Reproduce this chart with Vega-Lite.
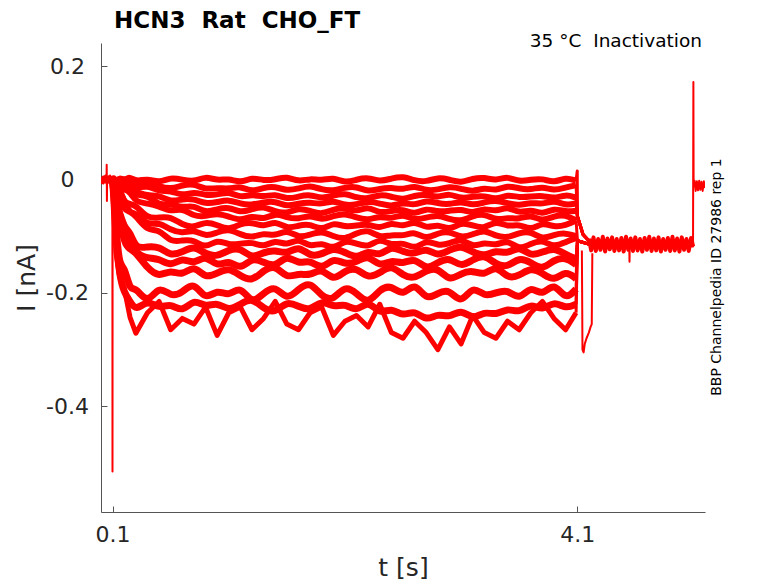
{
  "$schema": "https://vega.github.io/schema/vega-lite/v6.json",
  "width": 604,
  "height": 469,
  "autosize": {"type": "none"},
  "padding": {"left": 101, "top": 43, "right": 73, "bottom": 71},
  "background": "white",
  "title": {
    "text": "HCN3\u00a0\u00a0Rat\u00a0\u00a0CHO_FT",
    "anchor": "start",
    "frame": "group",
    "dx": 13,
    "offset": -19,
    "baseline": "alphabetic",
    "font": "DejaVu Sans",
    "fontSize": 23,
    "fontWeight": "bold",
    "color": "#000000"
  },
  "config": {
    "view": {"stroke": null},
    "axis": {
      "grid": false,
      "domainColor": "#555555",
      "tickColor": "#555555",
      "tickSize": -6,
      "labelColor": "#262626",
      "titleColor": "#262626",
      "labelFont": "DejaVu Sans",
      "titleFont": "DejaVu Sans",
      "labelFontSize": 22,
      "titleFontSize": 25,
      "titleFontWeight": "normal"
    }
  },
  "layer": [
    {
      "data": {
        "values": [
          {"s":0,"t":0.002,"i":0.004},{"s":0,"t":0.008,"i":-0.006},{"s":0,"t":0.014,"i":0.005},{"s":0,"t":0.02,"i":-0.007},{"s":0,"t":0.026,"i":0.006},{"s":0,"t":0.032,"i":-0.005},{"s":0,"t":0.038,"i":0.007},{"s":0,"t":0.044,"i":-0.006},{"s":0,"t":0.048,"i":0.004},{"s":0,"t":0.049,"i":0.026},{"s":0,"t":0.051,"i":-0.038},{"s":0,"t":0.053,"i":0.003},{"s":0,"t":0.06,"i":-0.006},{"s":0,"t":0.066,"i":0.006},{"s":0,"t":0.072,"i":-0.005},{"s":0,"t":0.078,"i":0.007},{"s":0,"t":0.084,"i":-0.006},{"s":0,"t":0.09,"i":0.005},{"s":0,"t":0.096,"i":-0.004},{"s":0,"t":0.098,"i":0.002},{"s":0,"t":0.099,"i":-0.515},{"s":0,"t":0.1,"i":-0.02},

          {"s":1,"t":0.1,"i":0},{"s":1,"t":0.11,"i":0.002},{"s":1,"t":0.13,"i":-0.004},{"s":1,"t":0.16,"i":0.004},{"s":1,"t":0.2,"i":-0.002},{"s":1,"t":0.25,"i":0.006},{"s":1,"t":0.3,"i":-0.004},{"s":1,"t":0.4,"i":0.002},{"s":1,"t":0.5,"i":-0.006},{"s":1,"t":0.6,"i":0.004},{"s":1,"t":0.7,"i":0},{"s":1,"t":0.8,"i":-0.004},{"s":1,"t":0.9,"i":0.006},{"s":1,"t":1.0,"i":-0.002},{"s":1,"t":1.1,"i":0.002},{"s":1,"t":1.2,"i":-0.006},{"s":1,"t":1.3,"i":0.004},{"s":1,"t":1.4,"i":-0.002},{"s":1,"t":1.5,"i":0},{"s":1,"t":1.6,"i":0.006},{"s":1,"t":1.7,"i":-0.004},{"s":1,"t":1.8,"i":0.002},{"s":1,"t":1.9,"i":-0.002},{"s":1,"t":2.0,"i":0.004},{"s":1,"t":2.1,"i":-0.006},{"s":1,"t":2.2,"i":0},{"s":1,"t":2.3,"i":0.004},{"s":1,"t":2.4,"i":-0.004},{"s":1,"t":2.5,"i":0.002},{"s":1,"t":2.6,"i":0.006},{"s":1,"t":2.7,"i":-0.002},{"s":1,"t":2.8,"i":-0.004},{"s":1,"t":2.9,"i":0.004},{"s":1,"t":3.0,"i":0},{"s":1,"t":3.1,"i":-0.006},{"s":1,"t":3.2,"i":0.002},{"s":1,"t":3.3,"i":0.004},{"s":1,"t":3.4,"i":-0.002},{"s":1,"t":3.5,"i":0.006},{"s":1,"t":3.6,"i":-0.004},{"s":1,"t":3.7,"i":0},{"s":1,"t":3.8,"i":0.002},{"s":1,"t":3.9,"i":-0.006},{"s":1,"t":4.0,"i":0.004},{"s":1,"t":4.09,"i":-0.002},
          {"s":101,"t":4.09,"i":-0.002},{"s":101,"t":4.1,"i":0.015},{"s":101,"t":4.102,"i":-0.065},{"s":101,"t":4.15,"i":-0.097},{"s":101,"t":4.2,"i":-0.108},

          {"s":2,"t":0.1,"i":0},{"s":2,"t":0.11,"i":-0.004},{"s":2,"t":0.13,"i":0.001},{"s":2,"t":0.16,"i":-0.004},{"s":2,"t":0.2,"i":0.003},{"s":2,"t":0.25,"i":-0.009},{"s":2,"t":0.3,"i":-0.006},{"s":2,"t":0.4,"i":-0.004},{"s":2,"t":0.5,"i":-0.012},{"s":2,"t":0.6,"i":-0.017},{"s":2,"t":0.7,"i":-0.01},{"s":2,"t":0.8,"i":-0.007},{"s":2,"t":0.9,"i":-0.018},{"s":2,"t":1.0,"i":-0.014},{"s":2,"t":1.1,"i":-0.017},{"s":2,"t":1.2,"i":-0.011},{"s":2,"t":1.3,"i":-0.022},{"s":2,"t":1.4,"i":-0.014},{"s":2,"t":1.5,"i":-0.012},{"s":2,"t":1.6,"i":-0.02},{"s":2,"t":1.7,"i":-0.016},{"s":2,"t":1.8,"i":-0.01},{"s":2,"t":1.9,"i":-0.018},{"s":2,"t":2.0,"i":-0.02},{"s":2,"t":2.1,"i":-0.014},{"s":2,"t":2.2,"i":-0.012},{"s":2,"t":2.3,"i":-0.022},{"s":2,"t":2.4,"i":-0.016},{"s":2,"t":2.5,"i":-0.014},{"s":2,"t":2.6,"i":-0.018},{"s":2,"t":2.7,"i":-0.01},{"s":2,"t":2.8,"i":-0.02},{"s":2,"t":2.9,"i":-0.018},{"s":2,"t":3.0,"i":-0.012},{"s":2,"t":3.1,"i":-0.016},{"s":2,"t":3.2,"i":-0.022},{"s":2,"t":3.3,"i":-0.014},{"s":2,"t":3.4,"i":-0.02},{"s":2,"t":3.5,"i":-0.01},{"s":2,"t":3.6,"i":-0.016},{"s":2,"t":3.7,"i":-0.018},{"s":2,"t":3.8,"i":-0.012},{"s":2,"t":3.9,"i":-0.02},{"s":2,"t":4.0,"i":-0.014},{"s":2,"t":4.09,"i":-0.01},
          {"s":102,"t":4.09,"i":-0.01},{"s":102,"t":4.102,"i":-0.065},{"s":102,"t":4.15,"i":-0.097},{"s":102,"t":4.2,"i":-0.108},

          {"s":3,"t":0.1,"i":0},{"s":3,"t":0.11,"i":-0.005},{"s":3,"t":0.13,"i":0},{"s":3,"t":0.16,"i":-0.01},{"s":3,"t":0.2,"i":-0.003},{"s":3,"t":0.25,"i":-0.009},{"s":3,"t":0.3,"i":-0.016},{"s":3,"t":0.4,"i":-0.01},{"s":3,"t":0.5,"i":-0.021},{"s":3,"t":0.6,"i":-0.019},{"s":3,"t":0.7,"i":-0.029},{"s":3,"t":0.8,"i":-0.021},{"s":3,"t":0.9,"i":-0.028},{"s":3,"t":1.0,"i":-0.027},{"s":3,"t":1.1,"i":-0.021},{"s":3,"t":1.2,"i":-0.032},{"s":3,"t":1.3,"i":-0.026},{"s":3,"t":1.4,"i":-0.031},{"s":3,"t":1.5,"i":-0.025},{"s":3,"t":1.6,"i":-0.035},{"s":3,"t":1.7,"i":-0.03},{"s":3,"t":1.8,"i":-0.026},{"s":3,"t":1.9,"i":-0.034},{"s":3,"t":2.0,"i":-0.028},{"s":3,"t":2.1,"i":-0.024},{"s":3,"t":2.2,"i":-0.032},{"s":3,"t":2.3,"i":-0.034},{"s":3,"t":2.4,"i":-0.026},{"s":3,"t":2.5,"i":-0.03},{"s":3,"t":2.6,"i":-0.036},{"s":3,"t":2.7,"i":-0.028},{"s":3,"t":2.8,"i":-0.026},{"s":3,"t":2.9,"i":-0.032},{"s":3,"t":3.0,"i":-0.024},{"s":3,"t":3.1,"i":-0.034},{"s":3,"t":3.2,"i":-0.03},{"s":3,"t":3.3,"i":-0.028},{"s":3,"t":3.4,"i":-0.036},{"s":3,"t":3.5,"i":-0.026},{"s":3,"t":3.6,"i":-0.032},{"s":3,"t":3.7,"i":-0.03},{"s":3,"t":3.8,"i":-0.028},{"s":3,"t":3.9,"i":-0.034},{"s":3,"t":4.0,"i":-0.026},{"s":3,"t":4.09,"i":-0.032},
          {"s":103,"t":4.09,"i":-0.032},{"s":103,"t":4.102,"i":-0.065},{"s":103,"t":4.15,"i":-0.097},{"s":103,"t":4.2,"i":-0.108},

          {"s":4,"t":0.1,"i":0},{"s":4,"t":0.11,"i":-0.003},{"s":4,"t":0.13,"i":-0.01},{"s":4,"t":0.16,"i":-0.006},{"s":4,"t":0.2,"i":-0.006},{"s":4,"t":0.25,"i":-0.021},{"s":4,"t":0.3,"i":-0.021},{"s":4,"t":0.4,"i":-0.029},{"s":4,"t":0.5,"i":-0.027},{"s":4,"t":0.6,"i":-0.04},{"s":4,"t":0.7,"i":-0.034},{"s":4,"t":0.8,"i":-0.034},{"s":4,"t":0.9,"i":-0.043},{"s":4,"t":1.0,"i":-0.04},{"s":4,"t":1.1,"i":-0.035},{"s":4,"t":1.2,"i":-0.043},{"s":4,"t":1.3,"i":-0.045},{"s":4,"t":1.4,"i":-0.04},{"s":4,"t":1.5,"i":-0.038},{"s":4,"t":1.6,"i":-0.048},{"s":4,"t":1.7,"i":-0.042},{"s":4,"t":1.8,"i":-0.04},{"s":4,"t":1.9,"i":-0.044},{"s":4,"t":2.0,"i":-0.036},{"s":4,"t":2.1,"i":-0.046},{"s":4,"t":2.2,"i":-0.044},{"s":4,"t":2.3,"i":-0.038},{"s":4,"t":2.4,"i":-0.042},{"s":4,"t":2.5,"i":-0.048},{"s":4,"t":2.6,"i":-0.04},{"s":4,"t":2.7,"i":-0.046},{"s":4,"t":2.8,"i":-0.036},{"s":4,"t":2.9,"i":-0.042},{"s":4,"t":3.0,"i":-0.044},{"s":4,"t":3.1,"i":-0.038},{"s":4,"t":3.2,"i":-0.046},{"s":4,"t":3.3,"i":-0.04},{"s":4,"t":3.4,"i":-0.036},{"s":4,"t":3.5,"i":-0.042},{"s":4,"t":3.6,"i":-0.046},{"s":4,"t":3.7,"i":-0.04},{"s":4,"t":3.8,"i":-0.044},{"s":4,"t":3.9,"i":-0.036},{"s":4,"t":4.0,"i":-0.046},{"s":4,"t":4.09,"i":-0.042},
          {"s":104,"t":4.09,"i":-0.042},{"s":104,"t":4.102,"i":-0.065},{"s":104,"t":4.15,"i":-0.097},{"s":104,"t":4.2,"i":-0.108},

          {"s":5,"t":0.1,"i":0},{"s":5,"t":0.11,"i":-0.004},{"s":5,"t":0.13,"i":-0.003},{"s":5,"t":0.16,"i":-0.018},{"s":5,"t":0.2,"i":-0.011},{"s":5,"t":0.25,"i":-0.024},{"s":5,"t":0.3,"i":-0.027},{"s":5,"t":0.4,"i":-0.027},{"s":5,"t":0.5,"i":-0.046},{"s":5,"t":0.6,"i":-0.042},{"s":5,"t":0.7,"i":-0.05},{"s":5,"t":0.8,"i":-0.045},{"s":5,"t":0.9,"i":-0.059},{"s":5,"t":1.0,"i":-0.052},{"s":5,"t":1.1,"i":-0.048},{"s":5,"t":1.2,"i":-0.059},{"s":5,"t":1.3,"i":-0.052},{"s":5,"t":1.4,"i":-0.047},{"s":5,"t":1.5,"i":-0.057},{"s":5,"t":1.6,"i":-0.06},{"s":5,"t":1.7,"i":-0.05},{"s":5,"t":1.8,"i":-0.055},{"s":5,"t":1.9,"i":-0.062},{"s":5,"t":2.0,"i":-0.052},{"s":5,"t":2.1,"i":-0.05},{"s":5,"t":2.2,"i":-0.057},{"s":5,"t":2.3,"i":-0.047},{"s":5,"t":2.4,"i":-0.06},{"s":5,"t":2.5,"i":-0.055},{"s":5,"t":2.6,"i":-0.052},{"s":5,"t":2.7,"i":-0.062},{"s":5,"t":2.8,"i":-0.05},{"s":5,"t":2.9,"i":-0.057},{"s":5,"t":3.0,"i":-0.055},{"s":5,"t":3.1,"i":-0.052},{"s":5,"t":3.2,"i":-0.06},{"s":5,"t":3.3,"i":-0.05},{"s":5,"t":3.4,"i":-0.057},{"s":5,"t":3.5,"i":-0.047},{"s":5,"t":3.6,"i":-0.06},{"s":5,"t":3.7,"i":-0.052},{"s":5,"t":3.8,"i":-0.062},{"s":5,"t":3.9,"i":-0.05},{"s":5,"t":4.0,"i":-0.057},{"s":5,"t":4.09,"i":-0.055},
          {"s":105,"t":4.09,"i":-0.055},{"s":105,"t":4.102,"i":-0.065},{"s":105,"t":4.15,"i":-0.097},{"s":105,"t":4.2,"i":-0.108},

          {"s":6,"t":0.1,"i":0},{"s":6,"t":0.11,"i":0.005},{"s":6,"t":0.13,"i":-0.009},{"s":6,"t":0.16,"i":-0.017},{"s":6,"t":0.2,"i":-0.017},{"s":6,"t":0.25,"i":-0.021},{"s":6,"t":0.3,"i":-0.04},{"s":6,"t":0.4,"i":-0.042},{"s":6,"t":0.5,"i":-0.047},{"s":6,"t":0.6,"i":-0.057},{"s":6,"t":0.7,"i":-0.05},{"s":6,"t":0.8,"i":-0.065},{"s":6,"t":0.9,"i":-0.065},{"s":6,"t":1.0,"i":-0.059},{"s":6,"t":1.1,"i":-0.065},{"s":6,"t":1.2,"i":-0.073},{"s":6,"t":1.3,"i":-0.063},{"s":6,"t":1.4,"i":-0.071},{"s":6,"t":1.5,"i":-0.059},{"s":6,"t":1.6,"i":-0.067},{"s":6,"t":1.7,"i":-0.07},{"s":6,"t":1.8,"i":-0.062},{"s":6,"t":1.9,"i":-0.072},{"s":6,"t":2.0,"i":-0.064},{"s":6,"t":2.1,"i":-0.06},{"s":6,"t":2.2,"i":-0.067},{"s":6,"t":2.3,"i":-0.072},{"s":6,"t":2.4,"i":-0.064},{"s":6,"t":2.5,"i":-0.07},{"s":6,"t":2.6,"i":-0.06},{"s":6,"t":2.7,"i":-0.072},{"s":6,"t":2.8,"i":-0.067},{"s":6,"t":2.9,"i":-0.062},{"s":6,"t":3.0,"i":-0.07},{"s":6,"t":3.1,"i":-0.074},{"s":6,"t":3.2,"i":-0.064},{"s":6,"t":3.3,"i":-0.06},{"s":6,"t":3.4,"i":-0.072},{"s":6,"t":3.5,"i":-0.067},{"s":6,"t":3.6,"i":-0.07},{"s":6,"t":3.7,"i":-0.062},{"s":6,"t":3.8,"i":-0.074},{"s":6,"t":3.9,"i":-0.064},{"s":6,"t":4.0,"i":-0.062},{"s":6,"t":4.09,"i":-0.072},
          {"s":106,"t":4.09,"i":-0.072},{"s":106,"t":4.102,"i":-0.065},{"s":106,"t":4.15,"i":-0.097},{"s":106,"t":4.2,"i":-0.108},

          {"s":7,"t":0.1,"i":0},{"s":7,"t":0.11,"i":-0.001},{"s":7,"t":0.13,"i":-0.014},{"s":7,"t":0.16,"i":-0.015},{"s":7,"t":0.2,"i":-0.041},{"s":7,"t":0.25,"i":-0.043},{"s":7,"t":0.3,"i":-0.045},{"s":7,"t":0.4,"i":-0.069},{"s":7,"t":0.5,"i":-0.067},{"s":7,"t":0.6,"i":-0.065},{"s":7,"t":0.7,"i":-0.08},{"s":7,"t":0.8,"i":-0.085},{"s":7,"t":0.9,"i":-0.074},{"s":7,"t":1.0,"i":-0.08},{"s":7,"t":1.1,"i":-0.089},{"s":7,"t":1.2,"i":-0.078},{"s":7,"t":1.3,"i":-0.075},{"s":7,"t":1.4,"i":-0.084},{"s":7,"t":1.5,"i":-0.072},{"s":7,"t":1.6,"i":-0.087},{"s":7,"t":1.7,"i":-0.081},{"s":7,"t":1.8,"i":-0.078},{"s":7,"t":1.9,"i":-0.09},{"s":7,"t":2.0,"i":-0.075},{"s":7,"t":2.1,"i":-0.084},{"s":7,"t":2.2,"i":-0.081},{"s":7,"t":2.3,"i":-0.078},{"s":7,"t":2.4,"i":-0.087},{"s":7,"t":2.5,"i":-0.075},{"s":7,"t":2.6,"i":-0.084},{"s":7,"t":2.7,"i":-0.072},{"s":7,"t":2.8,"i":-0.087},{"s":7,"t":2.9,"i":-0.078},{"s":7,"t":3.0,"i":-0.09},{"s":7,"t":3.1,"i":-0.075},{"s":7,"t":3.2,"i":-0.081},{"s":7,"t":3.3,"i":-0.087},{"s":7,"t":3.4,"i":-0.072},{"s":7,"t":3.5,"i":-0.084},{"s":7,"t":3.6,"i":-0.078},{"s":7,"t":3.7,"i":-0.09},{"s":7,"t":3.8,"i":-0.075},{"s":7,"t":3.9,"i":-0.084},{"s":7,"t":4.0,"i":-0.081},{"s":7,"t":4.09,"i":-0.072},
          {"s":107,"t":4.09,"i":-0.072},{"s":107,"t":4.102,"i":-0.108},{"s":107,"t":4.2,"i":-0.114},

          {"s":8,"t":0.1,"i":0},{"s":8,"t":0.11,"i":-0.011},{"s":8,"t":0.13,"i":-0.017},{"s":8,"t":0.16,"i":-0.019},{"s":8,"t":0.2,"i":-0.038},{"s":8,"t":0.25,"i":-0.06},{"s":8,"t":0.3,"i":-0.058},{"s":8,"t":0.4,"i":-0.081},{"s":8,"t":0.5,"i":-0.075},{"s":8,"t":0.6,"i":-0.089},{"s":8,"t":0.7,"i":-0.095},{"s":8,"t":0.8,"i":-0.088},{"s":8,"t":0.9,"i":-0.101},{"s":8,"t":1.0,"i":-0.093},{"s":8,"t":1.1,"i":-0.087},{"s":8,"t":1.2,"i":-0.097},{"s":8,"t":1.3,"i":-0.103},{"s":8,"t":1.4,"i":-0.094},{"s":8,"t":1.5,"i":-0.1},{"s":8,"t":1.6,"i":-0.088},{"s":8,"t":1.7,"i":-0.103},{"s":8,"t":1.8,"i":-0.097},{"s":8,"t":1.9,"i":-0.091},{"s":8,"t":2.0,"i":-0.1},{"s":8,"t":2.1,"i":-0.106},{"s":8,"t":2.2,"i":-0.094},{"s":8,"t":2.3,"i":-0.088},{"s":8,"t":2.4,"i":-0.103},{"s":8,"t":2.5,"i":-0.097},{"s":8,"t":2.6,"i":-0.1},{"s":8,"t":2.7,"i":-0.091},{"s":8,"t":2.8,"i":-0.106},{"s":8,"t":2.9,"i":-0.094},{"s":8,"t":3.0,"i":-0.091},{"s":8,"t":3.1,"i":-0.103},{"s":8,"t":3.2,"i":-0.097},{"s":8,"t":3.3,"i":-0.088},{"s":8,"t":3.4,"i":-0.1},{"s":8,"t":3.5,"i":-0.103},{"s":8,"t":3.6,"i":-0.094},{"s":8,"t":3.7,"i":-0.091},{"s":8,"t":3.8,"i":-0.106},{"s":8,"t":3.9,"i":-0.097},{"s":8,"t":4.0,"i":-0.094},{"s":8,"t":4.09,"i":-0.1},
          {"s":108,"t":4.09,"i":-0.1},{"s":108,"t":4.102,"i":-0.108},{"s":108,"t":4.2,"i":-0.114},

          {"s":9,"t":0.1,"i":0},{"s":9,"t":0.11,"i":-0.013},{"s":9,"t":0.13,"i":-0.009},{"s":9,"t":0.16,"i":-0.029},{"s":9,"t":0.2,"i":-0.055},{"s":9,"t":0.25,"i":-0.056},{"s":9,"t":0.3,"i":-0.064},{"s":9,"t":0.4,"i":-0.091},{"s":9,"t":0.5,"i":-0.087},{"s":9,"t":0.6,"i":-0.111},{"s":9,"t":0.7,"i":-0.107},{"s":9,"t":0.8,"i":-0.106},{"s":9,"t":0.9,"i":-0.122},{"s":9,"t":1.0,"i":-0.105},{"s":9,"t":1.1,"i":-0.116},{"s":9,"t":1.2,"i":-0.113},{"s":9,"t":1.3,"i":-0.11},{"s":9,"t":1.4,"i":-0.12},{"s":9,"t":1.5,"i":-0.106},{"s":9,"t":1.6,"i":-0.117},{"s":9,"t":1.7,"i":-0.103},{"s":9,"t":1.8,"i":-0.12},{"s":9,"t":1.9,"i":-0.11},{"s":9,"t":2.0,"i":-0.124},{"s":9,"t":2.1,"i":-0.106},{"s":9,"t":2.2,"i":-0.113},{"s":9,"t":2.3,"i":-0.12},{"s":9,"t":2.4,"i":-0.103},{"s":9,"t":2.5,"i":-0.117},{"s":9,"t":2.6,"i":-0.11},{"s":9,"t":2.7,"i":-0.124},{"s":9,"t":2.8,"i":-0.106},{"s":9,"t":2.9,"i":-0.117},{"s":9,"t":3.0,"i":-0.113},{"s":9,"t":3.1,"i":-0.103},{"s":9,"t":3.2,"i":-0.12},{"s":9,"t":3.3,"i":-0.11},{"s":9,"t":3.4,"i":-0.117},{"s":9,"t":3.5,"i":-0.106},{"s":9,"t":3.6,"i":-0.124},{"s":9,"t":3.7,"i":-0.113},{"s":9,"t":3.8,"i":-0.106},{"s":9,"t":3.9,"i":-0.12},{"s":9,"t":4.0,"i":-0.11},{"s":9,"t":4.09,"i":-0.103},
          {"s":109,"t":4.09,"i":-0.103},{"s":109,"t":4.102,"i":-0.108},{"s":109,"t":4.2,"i":-0.114},

          {"s":10,"t":0.1,"i":0},{"s":10,"t":0.11,"i":-0.002},{"s":10,"t":0.13,"i":-0.041},{"s":10,"t":0.16,"i":-0.058},{"s":10,"t":0.2,"i":-0.085},{"s":10,"t":0.25,"i":-0.092},{"s":10,"t":0.3,"i":-0.123},{"s":10,"t":0.4,"i":-0.118},{"s":10,"t":0.5,"i":-0.118},{"s":10,"t":0.6,"i":-0.135},{"s":10,"t":0.7,"i":-0.128},{"s":10,"t":0.8,"i":-0.116},{"s":10,"t":0.9,"i":-0.132},{"s":10,"t":1.0,"i":-0.136},{"s":10,"t":1.1,"i":-0.124},{"s":10,"t":1.2,"i":-0.12},{"s":10,"t":1.3,"i":-0.14},{"s":10,"t":1.4,"i":-0.128},{"s":10,"t":1.5,"i":-0.124},{"s":10,"t":1.6,"i":-0.132},{"s":10,"t":1.7,"i":-0.116},{"s":10,"t":1.8,"i":-0.136},{"s":10,"t":1.9,"i":-0.132},{"s":10,"t":2.0,"i":-0.12},{"s":10,"t":2.1,"i":-0.128},{"s":10,"t":2.2,"i":-0.14},{"s":10,"t":2.3,"i":-0.124},{"s":10,"t":2.4,"i":-0.136},{"s":10,"t":2.5,"i":-0.116},{"s":10,"t":2.6,"i":-0.128},{"s":10,"t":2.7,"i":-0.132},{"s":10,"t":2.8,"i":-0.12},{"s":10,"t":2.9,"i":-0.136},{"s":10,"t":3.0,"i":-0.124},{"s":10,"t":3.1,"i":-0.116},{"s":10,"t":3.2,"i":-0.128},{"s":10,"t":3.3,"i":-0.136},{"s":10,"t":3.4,"i":-0.124},{"s":10,"t":3.5,"i":-0.132},{"s":10,"t":3.6,"i":-0.116},{"s":10,"t":3.7,"i":-0.136},{"s":10,"t":3.8,"i":-0.128},{"s":10,"t":3.9,"i":-0.12},{"s":10,"t":4.0,"i":-0.132},{"s":10,"t":4.09,"i":-0.14},
          {"s":110,"t":4.09,"i":-0.14},{"s":110,"t":4.102,"i":-0.108},{"s":110,"t":4.2,"i":-0.114},

          {"s":11,"t":0.1,"i":0},{"s":11,"t":0.11,"i":-0.023},{"s":11,"t":0.13,"i":-0.038},{"s":11,"t":0.16,"i":-0.061},{"s":11,"t":0.2,"i":-0.106},{"s":11,"t":0.25,"i":-0.104},{"s":11,"t":0.3,"i":-0.131},{"s":11,"t":0.4,"i":-0.139},{"s":11,"t":0.5,"i":-0.139},{"s":11,"t":0.6,"i":-0.154},{"s":11,"t":0.7,"i":-0.137},{"s":11,"t":0.8,"i":-0.15},{"s":11,"t":0.9,"i":-0.132},{"s":11,"t":1.0,"i":-0.155},{"s":11,"t":1.1,"i":-0.141},{"s":11,"t":1.2,"i":-0.16},{"s":11,"t":1.3,"i":-0.137},{"s":11,"t":1.4,"i":-0.146},{"s":11,"t":1.5,"i":-0.155},{"s":11,"t":1.6,"i":-0.132},{"s":11,"t":1.7,"i":-0.15},{"s":11,"t":1.8,"i":-0.141},{"s":11,"t":1.9,"i":-0.16},{"s":11,"t":2.0,"i":-0.137},{"s":11,"t":2.1,"i":-0.15},{"s":11,"t":2.2,"i":-0.146},{"s":11,"t":2.3,"i":-0.132},{"s":11,"t":2.4,"i":-0.155},{"s":11,"t":2.5,"i":-0.141},{"s":11,"t":2.6,"i":-0.15},{"s":11,"t":2.7,"i":-0.137},{"s":11,"t":2.8,"i":-0.16},{"s":11,"t":2.9,"i":-0.146},{"s":11,"t":3.0,"i":-0.137},{"s":11,"t":3.1,"i":-0.155},{"s":11,"t":3.2,"i":-0.141},{"s":11,"t":3.3,"i":-0.132},{"s":11,"t":3.4,"i":-0.15},{"s":11,"t":3.5,"i":-0.155},{"s":11,"t":3.6,"i":-0.137},{"s":11,"t":3.7,"i":-0.146},{"s":11,"t":3.8,"i":-0.16},{"s":11,"t":3.9,"i":-0.141},{"s":11,"t":4.0,"i":-0.137},{"s":11,"t":4.09,"i":-0.15},
          {"s":111,"t":4.09,"i":-0.15},{"s":111,"t":4.102,"i":-0.108},{"s":111,"t":4.2,"i":-0.114},

          {"s":12,"t":0.1,"i":0},{"s":12,"t":0.11,"i":-0.016},{"s":12,"t":0.13,"i":-0.048},{"s":12,"t":0.16,"i":-0.064},{"s":12,"t":0.2,"i":-0.114},{"s":12,"t":0.25,"i":-0.123},{"s":12,"t":0.3,"i":-0.128},{"s":12,"t":0.4,"i":-0.157},{"s":12,"t":0.5,"i":-0.172},{"s":12,"t":0.6,"i":-0.159},{"s":12,"t":0.7,"i":-0.17},{"s":12,"t":0.8,"i":-0.15},{"s":12,"t":0.9,"i":-0.175},{"s":12,"t":1.0,"i":-0.165},{"s":12,"t":1.1,"i":-0.155},{"s":12,"t":1.2,"i":-0.17},{"s":12,"t":1.3,"i":-0.18},{"s":12,"t":1.4,"i":-0.16},{"s":12,"t":1.5,"i":-0.15},{"s":12,"t":1.6,"i":-0.175},{"s":12,"t":1.7,"i":-0.165},{"s":12,"t":1.8,"i":-0.17},{"s":12,"t":1.9,"i":-0.155},{"s":12,"t":2.0,"i":-0.18},{"s":12,"t":2.1,"i":-0.16},{"s":12,"t":2.2,"i":-0.155},{"s":12,"t":2.3,"i":-0.175},{"s":12,"t":2.4,"i":-0.165},{"s":12,"t":2.5,"i":-0.15},{"s":12,"t":2.6,"i":-0.17},{"s":12,"t":2.7,"i":-0.175},{"s":12,"t":2.8,"i":-0.16},{"s":12,"t":2.9,"i":-0.155},{"s":12,"t":3.0,"i":-0.18},{"s":12,"t":3.1,"i":-0.165},{"s":12,"t":3.2,"i":-0.16},{"s":12,"t":3.3,"i":-0.17},{"s":12,"t":3.4,"i":-0.15},{"s":12,"t":3.5,"i":-0.175},{"s":12,"t":3.6,"i":-0.17},{"s":12,"t":3.7,"i":-0.155},{"s":12,"t":3.8,"i":-0.165},{"s":12,"t":3.9,"i":-0.18},{"s":12,"t":4.0,"i":-0.16},{"s":12,"t":4.09,"i":-0.175},
          {"s":112,"t":4.09,"i":-0.175},{"s":112,"t":4.102,"i":-0.108},{"s":112,"t":4.2,"i":-0.114},

          {"s":13,"t":0.1,"i":0},{"s":13,"t":0.11,"i":-0.022},{"s":13,"t":0.13,"i":-0.09},{"s":13,"t":0.16,"i":-0.154},{"s":13,"t":0.2,"i":-0.152},{"s":13,"t":0.25,"i":-0.197},{"s":13,"t":0.3,"i":-0.189},{"s":13,"t":0.4,"i":-0.221},{"s":13,"t":0.5,"i":-0.186},{"s":13,"t":0.6,"i":-0.207},{"s":13,"t":0.7,"i":-0.2},{"s":13,"t":0.8,"i":-0.179},{"s":13,"t":0.9,"i":-0.214},{"s":13,"t":1.0,"i":-0.193},{"s":13,"t":1.1,"i":-0.207},{"s":13,"t":1.2,"i":-0.186},{"s":13,"t":1.3,"i":-0.221},{"s":13,"t":1.4,"i":-0.2},{"s":13,"t":1.5,"i":-0.186},{"s":13,"t":1.6,"i":-0.214},{"s":13,"t":1.7,"i":-0.193},{"s":13,"t":1.8,"i":-0.179},{"s":13,"t":1.9,"i":-0.207},{"s":13,"t":2.0,"i":-0.214},{"s":13,"t":2.1,"i":-0.186},{"s":13,"t":2.2,"i":-0.2},{"s":13,"t":2.3,"i":-0.221},{"s":13,"t":2.4,"i":-0.193},{"s":13,"t":2.5,"i":-0.186},{"s":13,"t":2.6,"i":-0.207},{"s":13,"t":2.7,"i":-0.179},{"s":13,"t":2.8,"i":-0.214},{"s":13,"t":2.9,"i":-0.2},{"s":13,"t":3.0,"i":-0.193},{"s":13,"t":3.1,"i":-0.221},{"s":13,"t":3.2,"i":-0.186},{"s":13,"t":3.3,"i":-0.207},{"s":13,"t":3.4,"i":-0.2},{"s":13,"t":3.5,"i":-0.193},{"s":13,"t":3.6,"i":-0.214},{"s":13,"t":3.7,"i":-0.186},{"s":13,"t":3.8,"i":-0.207},{"s":13,"t":3.9,"i":-0.179},{"s":13,"t":4.0,"i":-0.214},{"s":13,"t":4.09,"i":-0.193},
          {"s":113,"t":4.09,"i":-0.193},{"s":113,"t":4.102,"i":-0.108},{"s":113,"t":4.2,"i":-0.114},

          {"s":17,"t":0.1,"i":0},{"s":17,"t":0.11,"i":-0.03},{"s":17,"t":0.13,"i":-0.11},{"s":17,"t":0.16,"i":-0.17},{"s":17,"t":0.2,"i":-0.2},{"s":17,"t":0.25,"i":-0.215},{"s":17,"t":0.3,"i":-0.232},{"s":17,"t":0.4,"i":-0.212},{"s":17,"t":0.5,"i":-0.228},{"s":17,"t":0.6,"i":-0.218},{"s":17,"t":0.7,"i":-0.235},{"s":17,"t":0.8,"i":-0.21},{"s":17,"t":0.9,"i":-0.226},{"s":17,"t":1.0,"i":-0.216},{"s":17,"t":1.1,"i":-0.232},{"s":17,"t":1.2,"i":-0.22},{"s":17,"t":1.3,"i":-0.208},{"s":17,"t":1.4,"i":-0.228},{"s":17,"t":1.5,"i":-0.236},{"s":17,"t":1.6,"i":-0.214},{"s":17,"t":1.7,"i":-0.224},{"s":17,"t":1.8,"i":-0.232},{"s":17,"t":1.9,"i":-0.212},{"s":17,"t":2.0,"i":-0.226},{"s":17,"t":2.1,"i":-0.218},{"s":17,"t":2.2,"i":-0.234},{"s":17,"t":2.3,"i":-0.212},{"s":17,"t":2.4,"i":-0.238},{"s":17,"t":2.5,"i":-0.226},{"s":17,"t":2.6,"i":-0.242},{"s":17,"t":2.7,"i":-0.23},{"s":17,"t":2.8,"i":-0.25},{"s":17,"t":2.9,"i":-0.236},{"s":17,"t":3.0,"i":-0.244},{"s":17,"t":3.1,"i":-0.228},{"s":17,"t":3.2,"i":-0.248},{"s":17,"t":3.3,"i":-0.232},{"s":17,"t":3.4,"i":-0.24},{"s":17,"t":3.5,"i":-0.226},{"s":17,"t":3.6,"i":-0.236},{"s":17,"t":3.7,"i":-0.218},{"s":17,"t":3.8,"i":-0.232},{"s":17,"t":3.9,"i":-0.214},{"s":17,"t":4.0,"i":-0.228},{"s":17,"t":4.09,"i":-0.22},
          {"s":117,"t":4.09,"i":-0.22},{"s":117,"t":4.102,"i":-0.108},{"s":117,"t":4.2,"i":-0.114},

          {"s":14,"t":0.1,"i":0},{"s":14,"t":0.11,"i":-0.014},{"s":14,"t":0.13,"i":-0.13},{"s":14,"t":0.16,"i":-0.171},{"s":14,"t":0.2,"i":-0.192},{"s":14,"t":0.25,"i":-0.243},{"s":14,"t":0.3,"i":-0.271},{"s":14,"t":0.4,"i":-0.235},{"s":14,"t":0.5,"i":-0.215},{"s":14,"t":0.6,"i":-0.265},{"s":14,"t":0.7,"i":-0.245},{"s":14,"t":0.8,"i":-0.255},{"s":14,"t":0.9,"i":-0.225},{"s":14,"t":1.0,"i":-0.275},{"s":14,"t":1.1,"i":-0.235},{"s":14,"t":1.2,"i":-0.225},{"s":14,"t":1.3,"i":-0.265},{"s":14,"t":1.4,"i":-0.245},{"s":14,"t":1.5,"i":-0.215},{"s":14,"t":1.6,"i":-0.255},{"s":14,"t":1.7,"i":-0.265},{"s":14,"t":1.8,"i":-0.235},{"s":14,"t":1.9,"i":-0.225},{"s":14,"t":2.0,"i":-0.275},{"s":14,"t":2.1,"i":-0.25},{"s":14,"t":2.2,"i":-0.24},{"s":14,"t":2.3,"i":-0.26},{"s":14,"t":2.4,"i":-0.22},{"s":14,"t":2.5,"i":-0.27},{"s":14,"t":2.6,"i":-0.28},{"s":14,"t":2.7,"i":-0.25},{"s":14,"t":2.8,"i":-0.27},{"s":14,"t":2.9,"i":-0.3},{"s":14,"t":3.0,"i":-0.26},{"s":14,"t":3.1,"i":-0.29},{"s":14,"t":3.2,"i":-0.24},{"s":14,"t":3.3,"i":-0.27},{"s":14,"t":3.4,"i":-0.28},{"s":14,"t":3.5,"i":-0.25},{"s":14,"t":3.6,"i":-0.265},{"s":14,"t":3.7,"i":-0.235},{"s":14,"t":3.8,"i":-0.215},{"s":14,"t":3.9,"i":-0.245},{"s":14,"t":4.0,"i":-0.265},{"s":14,"t":4.09,"i":-0.235},
          {"s":114,"t":4.09,"i":-0.235},{"s":114,"t":4.102,"i":-0.108},{"s":114,"t":4.2,"i":-0.114},

          {"s":15,"t":4.2,"i":-0.104},{"s":15,"t":4.22,"i":-0.125},{"s":15,"t":4.24,"i":-0.102},{"s":15,"t":4.26,"i":-0.126},{"s":15,"t":4.28,"i":-0.105},{"s":15,"t":4.3,"i":-0.124},{"s":15,"t":4.32,"i":-0.101},{"s":15,"t":4.34,"i":-0.127},{"s":15,"t":4.36,"i":-0.104},{"s":15,"t":4.38,"i":-0.123},{"s":15,"t":4.4,"i":-0.102},{"s":15,"t":4.42,"i":-0.126},{"s":15,"t":4.44,"i":-0.105},{"s":15,"t":4.46,"i":-0.125},{"s":15,"t":4.48,"i":-0.103},{"s":15,"t":4.5,"i":-0.127},{"s":15,"t":4.52,"i":-0.101},{"s":15,"t":4.54,"i":-0.124},{"s":15,"t":4.56,"i":-0.104},{"s":15,"t":4.58,"i":-0.126},{"s":15,"t":4.6,"i":-0.102},{"s":15,"t":4.62,"i":-0.125},{"s":15,"t":4.64,"i":-0.105},{"s":15,"t":4.66,"i":-0.127},{"s":15,"t":4.68,"i":-0.103},{"s":15,"t":4.7,"i":-0.124},{"s":15,"t":4.72,"i":-0.101},{"s":15,"t":4.74,"i":-0.126},{"s":15,"t":4.76,"i":-0.104},{"s":15,"t":4.78,"i":-0.125},{"s":15,"t":4.8,"i":-0.102},{"s":15,"t":4.82,"i":-0.127},{"s":15,"t":4.84,"i":-0.105},{"s":15,"t":4.86,"i":-0.124},{"s":15,"t":4.88,"i":-0.103},{"s":15,"t":4.9,"i":-0.126},{"s":15,"t":4.92,"i":-0.101},{"s":15,"t":4.94,"i":-0.125},{"s":15,"t":4.96,"i":-0.104},{"s":15,"t":4.98,"i":-0.127},{"s":15,"t":5.0,"i":-0.102},{"s":15,"t":5.02,"i":-0.124},{"s":15,"t":5.04,"i":-0.105},{"s":15,"t":5.06,"i":-0.126},{"s":15,"t":5.08,"i":-0.103},{"s":15,"t":5.098,"i":-0.118},

          {"s":18,"t":4.548,"i":-0.118},{"s":18,"t":4.55,"i":-0.145},{"s":18,"t":4.552,"i":-0.118},
          {"s":18,"t":5.097,"i":-0.118},{"s":18,"t":5.1,"i":0.172},{"s":18,"t":5.102,"i":-0.012},{"s":18,"t":5.11,"i":-0.002},{"s":18,"t":5.12,"i":-0.02},{"s":18,"t":5.13,"i":-0.003},{"s":18,"t":5.14,"i":-0.019},{"s":18,"t":5.15,"i":-0.002},{"s":18,"t":5.16,"i":-0.018},{"s":18,"t":5.17,"i":-0.004},{"s":18,"t":5.18,"i":-0.02},{"s":18,"t":5.19,"i":-0.003},{"s":18,"t":5.2,"i":-0.015},

          {"s":16,"t":4.14,"i":-0.125},{"s":16,"t":4.145,"i":-0.3},{"s":16,"t":4.155,"i":-0.305},{"s":16,"t":4.165,"i":-0.29},{"s":16,"t":4.18,"i":-0.28},{"s":16,"t":4.2,"i":-0.27},{"s":16,"t":4.215,"i":-0.26},{"s":16,"t":4.225,"i":-0.255},{"s":16,"t":4.23,"i":-0.13}
        ]
      },
      "encoding": {
        "x": {
          "field": "t",
          "type": "quantitative",
          "scale": {"domain": [0, 5.2], "nice": false, "zero": false},
          "axis": {
            "title": "t [s]",
            "values": [0.1, 4.1],
            "format": ".1f",
            "labelPadding": 18,
            "titlePadding": 10
          }
        },
        "y": {
          "field": "i",
          "type": "quantitative",
          "scale": {"domain": [-0.5866, 0.241], "nice": false, "zero": false},
          "axis": {
            "title": "I [nA]",
            "values": [-0.4, -0.2, 0, 0.2],
            "labelExpr": "datum.value == 0 ? '0' : (datum.value < 0 ? '-' : '') + format(abs(datum.value), '.1f')",
            "labelAlign": "center",
            "labelPadding": 40,
            "titlePadding": 6
          }
        },
        "detail": {"field": "s", "type": "nominal"}
      },
      "layer": [
        {
          "transform": [{"filter": "datum.s >= 1 && datum.s <= 9"}],
          "mark": {"type": "line", "color": "#ff0000", "strokeWidth": 6, "interpolate": "basis", "clip": true}
        },
        {
          "transform": [{"filter": "(datum.s >= 10 && datum.s <= 13) || datum.s == 17"}],
          "mark": {"type": "line", "color": "#ff0000", "strokeWidth": 7, "interpolate": "basis", "clip": true}
        },
        {
          "transform": [{"filter": "datum.s == 14"}],
          "mark": {"type": "line", "color": "#ff0000", "strokeWidth": 5, "strokeJoin": "round", "clip": true}
        },
        {
          "transform": [{"filter": "datum.s >= 100"}],
          "mark": {"type": "line", "color": "#ff0000", "strokeWidth": 3, "strokeJoin": "round", "clip": true}
        },
        {
          "transform": [{"filter": "datum.s == 15"}],
          "mark": {"type": "line", "color": "#ff0000", "strokeWidth": 4, "strokeJoin": "round", "clip": true}
        },
        {
          "transform": [{"filter": "datum.s == 0 || datum.s == 16 || datum.s == 18"}],
          "mark": {"type": "line", "color": "#ff0000", "strokeWidth": 2, "strokeJoin": "round", "clip": true}
        }
      ]
    },
    {
      "data": {"values": [{}]},
      "mark": {"type": "text", "text": "35 °C\u00a0\u00a0Inactivation", "font": "DejaVu Sans", "fontSize": 18.5, "color": "#000000", "align": "right", "baseline": "middle"},
      "encoding": {"x": {"datum": 5.174}, "y": {"datum": 0.2453}}
    },
    {
      "data": {"values": [{}]},
      "mark": {"type": "text", "text": "BBP Channelpedia ID 27986 rep 1", "font": "DejaVu Sans", "fontSize": 14, "color": "#000000", "align": "center", "baseline": "middle", "angle": 270},
      "encoding": {"x": {"datum": 5.303}, "y": {"datum": -0.172}}
    }
  ]
}
